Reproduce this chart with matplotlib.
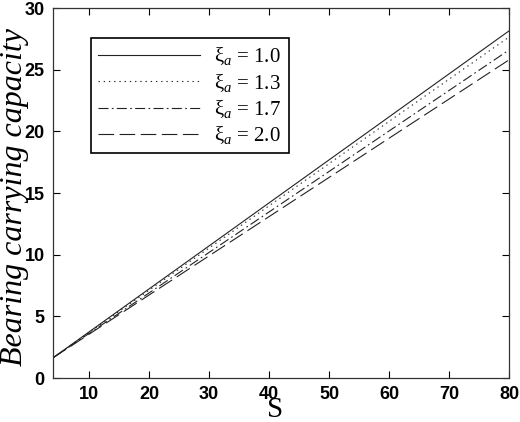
import matplotlib
matplotlib.use("Agg")
import matplotlib.pyplot as plt

# Data (straight lines)
S = [4, 80]
cap_10 = [1.65, 28.15]
cap_13 = [1.65, 27.65]
cap_17 = [1.65, 26.6]
cap_20 = [1.65, 25.8]
labels = ["ξ$_a$ = 1.0", "ξ$_a$ = 1.3", "ξ$_a$ = 1.7", "ξ$_a$ = 2.0"]
xticks = [10, 20, 30, 40, 50, 60, 70, 80]
yticks = [0, 5, 10, 15, 20, 25, 30]

plt.rcParams['mathtext.fontset'] = 'custom'
plt.rcParams['mathtext.rm'] = 'Liberation Serif'
plt.rcParams['mathtext.it'] = 'Liberation Serif:italic'

fig = plt.figure(figsize=(5.2, 4.22), dpi=100)
ax = fig.add_axes([0.102, 0.104, 0.877, 0.877])

styles = [dict(ls='-'), dict(ls=(0, (1.2, 3.5))), dict(ls=(0, (9, 3, 1.5, 3))),
          dict(ls=(0, (14, 5)))]
for ys, lab, st in zip([cap_10, cap_13, cap_17, cap_20], labels, styles):
    ax.plot(S, ys, color='#222222', lw=0.8, label=lab, **st)

ax.set_xlim(4, 80)
ax.set_ylim(0, 30)
ax.set_xticks(xticks)
ax.set_yticks(yticks)
ax.tick_params(direction='in', top=True, right=True, length=5, width=0.8,
               labelsize=13, pad=6)
for lab in ax.get_xticklabels() + ax.get_yticklabels():
    lab.set_fontfamily('Liberation Sans')
    lab.set_fontweight('bold')
for sp in ax.spines.values():
    sp.set_linewidth(0.9)
    sp.set_color('#333333')

ax.set_xlabel('S', fontfamily='Liberation Serif', fontsize=21)
ax.xaxis.set_label_coords(0.487, -0.05)
ax.set_ylabel('Bearing carrying capacity', fontfamily='Liberation Serif',
              fontstyle='italic', fontsize=23)
ax.yaxis.set_label_coords(-0.052, 0.49)

leg = ax.legend(loc='upper left', bbox_to_anchor=(0.083, 0.919),
                borderaxespad=0, fancybox=False, edgecolor='black',
                framealpha=1, handlelength=4.9, handletextpad=0.65,
                labelspacing=0.2, borderpad=0.36,
                prop={'family': 'Liberation Serif', 'size': 15})
leg.get_frame().set_linewidth(1.2)

fig.savefig('out.png', dpi=100)
